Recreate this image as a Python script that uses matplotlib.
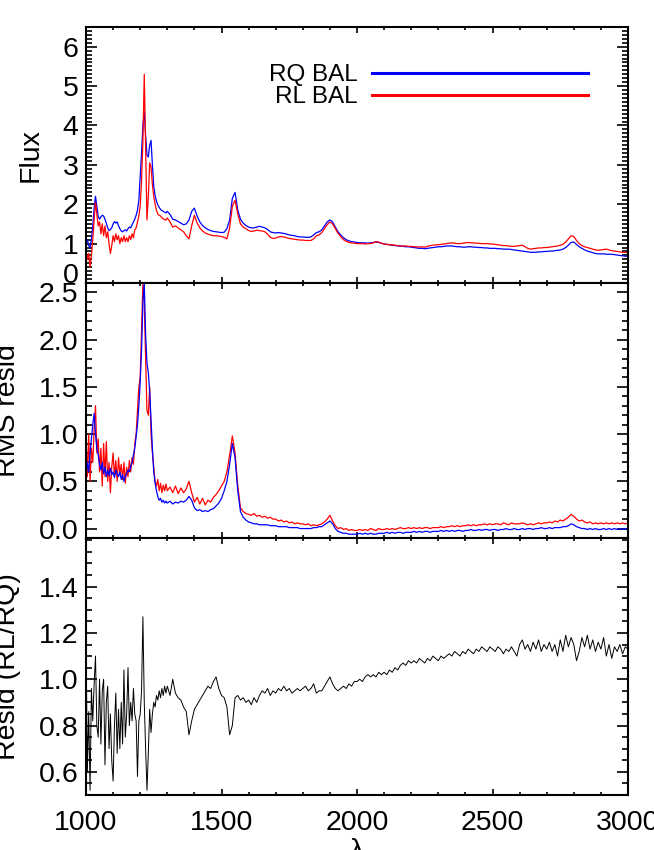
import numpy as np
import matplotlib
matplotlib.use('Agg')
import matplotlib.pyplot as plt
from matplotlib.ticker import MultipleLocator, FormatStrFormatter

plt.rcParams['font.family'] = ['Liberation Sans', 'DejaVu Sans']

# wavelength grid: 5 A steps up to 1300, then 10 A steps
wave = np.concatenate([np.arange(1000, 1300, 5), np.arange(1300, 3001, 10)])

# composite flux, radio-quiet BAL
rq_flux = [
    1.05, 1.10, 0.95, 0.90, 1.10, 1.45, 1.90, 2.20, 1.95, 1.70,
    1.62, 1.68, 1.72, 1.70, 1.62, 1.52, 1.40, 1.33, 1.36, 1.40,
    1.50, 1.56, 1.52, 1.55, 1.45, 1.38, 1.32, 1.30, 1.33, 1.35,
    1.32, 1.38, 1.42, 1.40, 1.48, 1.55, 1.62, 1.72, 1.85, 2.10,
    2.70, 3.30, 4.00, 4.35, 3.75, 3.25, 3.20, 3.50, 3.62, 3.00,
    2.45, 2.22, 2.08, 1.98, 1.92, 1.87, 1.84, 1.82, 1.80, 1.78,
    1.82, 1.74, 1.62, 1.60, 1.56, 1.52, 1.48, 1.50, 1.60, 1.82,
    1.90, 1.70, 1.55, 1.46, 1.40, 1.36, 1.33, 1.31, 1.30, 1.29,
    1.28, 1.29, 1.38, 1.60, 2.15, 2.30, 1.85, 1.62, 1.52, 1.46,
    1.42, 1.40, 1.40, 1.42, 1.44, 1.42, 1.40, 1.36, 1.30, 1.28,
    1.27, 1.28, 1.27, 1.26, 1.24, 1.22, 1.21, 1.20, 1.18, 1.17,
    1.17, 1.16, 1.16, 1.17, 1.22, 1.28, 1.30, 1.35, 1.45, 1.55,
    1.60, 1.55, 1.42, 1.30, 1.22, 1.15, 1.10, 1.07, 1.05, 1.04,
    1.03, 1.02, 1.02, 1.02, 1.01, 1.02, 1.03, 1.04, 1.03, 1.01,
    0.99, 0.98, 0.97, 0.96, 0.95, 0.94, 0.94, 0.93, 0.92, 0.92,
    0.91, 0.90, 0.89, 0.88, 0.88, 0.87, 0.88, 0.89, 0.90, 0.91,
    0.92, 0.92, 0.93, 0.94, 0.94, 0.94, 0.93, 0.92, 0.92, 0.91,
    0.91, 0.92, 0.92, 0.91, 0.91, 0.90, 0.90, 0.89, 0.89, 0.88,
    0.88, 0.88, 0.87, 0.87, 0.86, 0.86, 0.86, 0.85, 0.84, 0.83,
    0.82, 0.81, 0.80, 0.79, 0.78, 0.78, 0.78, 0.79, 0.79, 0.80,
    0.80, 0.81, 0.81, 0.82, 0.83, 0.84, 0.86, 0.90, 0.96, 1.03,
    1.04, 0.98, 0.92, 0.88, 0.84, 0.81, 0.79, 0.77, 0.75, 0.74,
    0.74, 0.74, 0.73, 0.73, 0.73, 0.72, 0.71, 0.70, 0.69, 0.68, 0.68,
]

# composite flux, radio-loud BAL
rl_flux = [
    0.85, 0.60, 0.75, 0.40, 0.70, 1.10, 1.60, 2.05, 1.75, 1.45,
    1.55, 1.25, 1.50, 1.20, 1.45, 1.15, 1.30, 1.00, 0.75, 0.95,
    1.20, 1.05, 1.25, 1.10, 1.20, 1.00, 1.15, 1.05, 1.20, 1.05,
    1.15, 1.05, 1.20, 1.10, 1.25, 1.15, 1.35, 1.40, 1.55, 1.70,
    1.95, 2.60, 3.60, 5.30, 3.40, 1.60, 2.20, 3.05, 2.95, 2.50,
    2.20, 2.00, 1.85, 1.75, 1.72, 1.70, 1.66, 1.63, 1.61, 1.60,
    1.65, 1.55, 1.42, 1.45, 1.40, 1.35, 1.30, 1.20, 1.12, 1.45,
    1.72, 1.52, 1.40, 1.32, 1.27, 1.24, 1.22, 1.20, 1.20, 1.19,
    1.18, 1.16, 1.12, 1.40, 1.95, 2.10, 1.75, 1.50, 1.42, 1.38,
    1.33, 1.31, 1.32, 1.34, 1.33, 1.32, 1.30, 1.24, 1.16, 1.13,
    1.14, 1.17, 1.18, 1.17, 1.15, 1.13, 1.12, 1.11, 1.10, 1.09,
    1.09, 1.08, 1.08, 1.08, 1.12, 1.20, 1.22, 1.28, 1.38, 1.48,
    1.55, 1.50, 1.38, 1.26, 1.18, 1.10, 1.06, 1.03, 1.02, 1.01,
    1.00, 1.00, 1.00, 0.99, 1.00, 1.00, 1.02, 1.05, 1.04, 1.01,
    0.99, 0.98, 0.97, 0.97, 0.96, 0.95, 0.94, 0.94, 0.94, 0.93,
    0.93, 0.92, 0.92, 0.91, 0.92, 0.91, 0.93, 0.95, 0.96, 0.97,
    0.97, 0.98, 0.99, 1.00, 1.01, 1.02, 1.01, 1.00, 1.00, 1.01,
    1.02, 1.03, 1.02, 1.02, 1.01, 1.01, 1.00, 1.00, 1.00, 0.99,
    0.99, 0.98, 0.97, 0.96, 0.95, 0.95, 0.94, 0.93, 0.93, 0.94,
    0.95, 0.96, 0.92, 0.88, 0.86, 0.87, 0.88, 0.89, 0.89, 0.90,
    0.90, 0.91, 0.92, 0.93, 0.94, 0.96, 0.98, 1.04, 1.12, 1.20,
    1.18, 1.08, 1.00, 0.95, 0.92, 0.90, 0.88, 0.86, 0.84, 0.83,
    0.84, 0.85, 0.86, 0.84, 0.82, 0.81, 0.80, 0.79, 0.78, 0.78, 0.77,
]

# rms residuals
rq_rms = [
    0.55, 0.70, 0.60, 0.80, 0.95, 1.10, 1.22, 1.00, 0.85, 0.78,
    0.68, 0.62, 0.70, 0.58, 0.65, 0.55, 0.62, 0.56, 0.64, 0.57,
    0.60, 0.54, 0.62, 0.58, 0.55, 0.60, 0.52, 0.57, 0.50, 0.55,
    0.58, 0.62, 0.60, 0.66, 0.70, 0.78, 0.85, 0.98, 1.10, 1.30,
    1.55, 1.90, 2.40, 2.60, 2.05, 1.75, 1.65, 1.45, 1.15, 0.85,
    0.60, 0.48, 0.40, 0.34, 0.30, 0.32, 0.28, 0.30, 0.27, 0.29,
    0.27, 0.29, 0.26, 0.28, 0.27, 0.29, 0.28, 0.30, 0.34, 0.30,
    0.22, 0.19, 0.20, 0.18, 0.19, 0.18, 0.20, 0.21, 0.24, 0.27,
    0.32, 0.40, 0.50, 0.68, 0.90, 0.75, 0.40, 0.18, 0.12, 0.09,
    0.07, 0.06, 0.05, 0.05, 0.04, 0.04, 0.04, 0.04, 0.03, 0.03,
    0.03, 0.02, 0.02, 0.02, 0.02, 0.01, 0.01, 0.01, 0.01, 0.00,
    0.00, 0.00, 0.00, 0.00, 0.01, 0.01, 0.02, 0.02, 0.04, 0.06,
    0.08, 0.05, 0.00, -0.03, -0.04, -0.05, -0.05, -0.06, -0.06, -0.06,
    -0.06, -0.05, -0.06, -0.05, -0.06, -0.05, -0.06, -0.06, -0.05, -0.05,
    -0.05, -0.04, -0.05, -0.04, -0.05, -0.04, -0.04, -0.05, -0.04, -0.04,
    -0.04, -0.03, -0.04, -0.03, -0.04, -0.03, -0.03, -0.04, -0.03, -0.03,
    -0.03, -0.02, -0.03, -0.02, -0.03, -0.02, -0.03, -0.02, -0.02, -0.03,
    -0.02, -0.02, -0.01, -0.02, -0.02, -0.01, -0.02, -0.01, -0.01, -0.02,
    -0.01, -0.01, -0.02, -0.01, -0.01, 0.00, -0.01, -0.01, 0.00, -0.01,
    -0.01, 0.00, -0.01, 0.00, 0.00, -0.01, 0.00, 0.00, 0.01, 0.00,
    0.00, 0.01, 0.00, 0.01, 0.01, 0.01, 0.02, 0.02, 0.03, 0.05,
    0.04, 0.02, 0.01, 0.00, 0.00, -0.01, 0.00, -0.01, 0.00, -0.01,
    -0.01, 0.00, -0.01, 0.00, -0.01, 0.00, -0.01, 0.00, -0.01, 0.00, -0.01,
]

rl_rms = [
    0.95, 0.55, 1.00, 0.50, 0.85, 0.70, 1.05, 1.30, 0.80, 0.95,
    0.60, 0.85, 0.45, 0.90, 0.55, 0.92, 0.50, 0.70, 0.38, 0.65,
    0.80, 0.55, 0.72, 0.50, 0.75, 0.58, 0.68, 0.52, 0.70, 0.48,
    0.65, 0.55, 0.72, 0.60, 0.75, 0.68, 0.90, 1.00, 1.25, 1.50,
    1.60, 2.10, 2.60, 2.40, 1.80, 1.25, 1.20, 1.50, 1.00, 0.80,
    0.65, 0.50, 0.45, 0.52, 0.40, 0.48, 0.38, 0.46, 0.40, 0.47,
    0.40, 0.44, 0.38, 0.45, 0.37, 0.43, 0.38, 0.42, 0.50, 0.38,
    0.28, 0.33, 0.26, 0.32, 0.25, 0.30, 0.28, 0.33, 0.36, 0.40,
    0.45, 0.50, 0.60, 0.78, 0.98, 0.80, 0.45, 0.22, 0.18, 0.16,
    0.15, 0.14, 0.16, 0.13, 0.14, 0.12, 0.13, 0.11, 0.12, 0.10,
    0.10, 0.08, 0.09, 0.07, 0.08, 0.06, 0.07, 0.05, 0.06, 0.05,
    0.05, 0.04, 0.05, 0.03, 0.04, 0.03, 0.04, 0.05, 0.07, 0.10,
    0.14, 0.08, 0.03, 0.00, 0.01, -0.01, 0.00, -0.02, -0.01, -0.02,
    -0.02, -0.01, -0.02, -0.01, -0.02, 0.00, -0.01, -0.02, 0.00, -0.01,
    -0.01, 0.00, -0.01, 0.00, -0.01, 0.00, 0.01, 0.00, 0.00, 0.01,
    0.00, 0.01, 0.00, 0.01, 0.00, 0.01, 0.01, 0.00, 0.01, 0.01,
    0.01, 0.02, 0.01, 0.02, 0.02, 0.03, 0.02, 0.03, 0.02, 0.03,
    0.03, 0.04, 0.03, 0.04, 0.03, 0.04, 0.04, 0.05, 0.04, 0.05,
    0.04, 0.05, 0.05, 0.04, 0.06, 0.05, 0.04, 0.06, 0.05, 0.05,
    0.05, 0.06, 0.05, 0.04, 0.05, 0.04, 0.05, 0.06, 0.05, 0.06,
    0.06, 0.07, 0.06, 0.08, 0.07, 0.09, 0.08, 0.10, 0.12, 0.15,
    0.13, 0.10, 0.08, 0.09, 0.07, 0.06, 0.07, 0.05, 0.06, 0.05,
    0.06, 0.05, 0.06, 0.05, 0.06, 0.05, 0.06, 0.05, 0.06, 0.05, 0.06,
]

# ratio RL/RQ
ratio = [
    1.20, 0.60, 0.86, 0.52, 0.96, 0.82, 0.98, 1.10, 0.80, 0.75,
    1.00, 0.72, 0.95, 1.00, 0.63, 0.90, 0.97, 0.70, 0.85, 0.65,
    0.56, 0.80, 0.94, 0.68, 0.87, 0.70, 0.90, 0.72, 1.04, 0.75,
    0.85, 1.05, 0.80, 0.90, 0.82, 0.96, 0.85, 0.82, 0.58, 0.82,
    0.85, 0.95, 1.27, 0.90, 0.70, 0.52, 0.68, 0.87, 0.77, 0.85,
    0.90, 0.88, 0.93, 0.91, 0.95, 0.92, 0.96, 0.93, 0.97, 0.94,
    0.97, 0.93, 1.00, 0.94, 0.92, 0.91, 0.88, 0.86, 0.76, 0.82,
    0.87, 0.89, 0.91, 0.93, 0.95, 0.97, 0.96, 0.99, 1.01, 0.96,
    0.93, 0.92, 0.88, 0.76, 0.80, 0.92, 0.93, 0.91, 0.92, 0.90,
    0.91, 0.89, 0.92, 0.90, 0.93, 0.95, 0.94, 0.96, 0.93, 0.95,
    0.94, 0.96, 0.95, 0.97, 0.95, 0.96, 0.94, 0.95, 0.96, 0.95,
    0.96, 0.97, 0.95, 0.96, 0.98, 0.94, 0.95, 0.95, 0.97, 0.99,
    1.01, 0.98, 0.96, 0.95, 0.96, 0.97, 0.96, 0.98, 0.97, 0.99,
    0.99, 1.00, 0.99, 1.01, 1.02, 1.01, 1.02, 1.01, 1.03, 1.02,
    1.03, 1.02, 1.04, 1.03, 1.05, 1.04, 1.06, 1.07, 1.06, 1.08,
    1.07, 1.08, 1.07, 1.09, 1.08, 1.07, 1.09, 1.08, 1.10, 1.09,
    1.08, 1.10, 1.09, 1.10, 1.11, 1.10, 1.12, 1.11, 1.10, 1.12,
    1.11, 1.13, 1.12, 1.11, 1.13, 1.12, 1.14, 1.13, 1.12, 1.14,
    1.13, 1.12, 1.14, 1.13, 1.11, 1.13, 1.12, 1.14, 1.12, 1.10,
    1.15, 1.17, 1.13, 1.15, 1.12, 1.16, 1.13, 1.17, 1.12, 1.15,
    1.13, 1.16, 1.12, 1.15, 1.10, 1.17, 1.12, 1.19, 1.14, 1.18,
    1.15, 1.08, 1.12, 1.18, 1.14, 1.19, 1.13, 1.17, 1.12, 1.16,
    1.13, 1.18, 1.10, 1.15, 1.09, 1.14, 1.12, 1.15, 1.11, 1.14, 1.13,
]

FS = 20.5


# IDL-like frame: ticks inside on all four sides
def style_axis(ax, yminor, show_x):
    ax.set_xlim(1000, 3000)
    ax.xaxis.set_major_locator(MultipleLocator(500))
    ax.xaxis.set_minor_locator(MultipleLocator(100))
    ax.yaxis.set_minor_locator(MultipleLocator(yminor))
    ax.tick_params(which='both', direction='in', top=True, right=True,
                   labelsize=FS, width=1.2)
    ax.tick_params(axis='x', which='major', length=4.5, pad=11)
    ax.tick_params(axis='x', which='minor', length=2.3)
    ax.tick_params(axis='y', which='major', length=8, pad=5.5)
    ax.tick_params(axis='y', which='minor', length=4.3)
    ax.tick_params(axis='x', labelbottom=show_x)
    for s in ax.spines.values():
        s.set_linewidth(1.5)


fig = plt.figure(figsize=(6.54, 8.5), dpi=100)
left, width = 86 / 654, 542 / 654
ax1 = fig.add_axes([left, 1 - 283 / 850, width, 256 / 850])
ax2 = fig.add_axes([left, 1 - 538 / 850, width, 255 / 850])
ax3 = fig.add_axes([left, 1 - 795 / 850, width, 257 / 850])

# panel 1: flux
ax1.plot(wave, rq_flux, color='blue', lw=0.9, label='RQ BAL')
ax1.plot(wave, rl_flux, color='red', lw=0.9, label='RL BAL')
ax1.set_ylim(0, 6.5)
ax1.set_yticks(range(0, 7))
style_axis(ax1, 0.1, False)
ax1.yaxis.get_major_ticks()[0].label1.set_va('baseline')
ax1.set_ylabel('Flux', fontsize=FS)
ax1.yaxis.set_label_coords(-0.078, 0.5)
leg = ax1.legend(loc='upper right', bbox_to_anchor=(0.926, 0.855),
                 markerfirst=False, frameon=False, fontsize=17.5,
                 handlelength=8.9, handletextpad=0.58, labelspacing=0.0,
                 borderpad=0, borderaxespad=0)
for ln in leg.get_lines():
    ln.set_linewidth(2.2)

# panel 2: rms residuals
ax2.plot(wave, rl_rms, color='red', lw=0.9)
ax2.plot(wave, rq_rms, color='blue', lw=0.9)
ax2.set_ylim(-0.1, 2.6)
ax2.set_yticks([0.0, 0.5, 1.0, 1.5, 2.0, 2.5])
ax2.yaxis.set_major_formatter(FormatStrFormatter('%.1f'))
style_axis(ax2, 0.1, False)
ax2.set_ylabel('RMS resid', fontsize=FS)
ax2.yaxis.set_label_coords(-0.12, 0.5)

# panel 3: ratio
ax3.plot(wave, ratio, color='black', lw=0.7)
ax3.set_ylim(0.5, 1.61)
ax3.set_yticks([0.6, 0.8, 1.0, 1.2, 1.4])
ax3.yaxis.set_major_formatter(FormatStrFormatter('%.1f'))
style_axis(ax3, 0.05, True)
ax3.set_ylabel('Resid (RL/RQ)', fontsize=FS)
ax3.yaxis.set_label_coords(-0.12, 0.5)
ax3.set_xlabel('λ', fontsize=FS, labelpad=1)

fig.savefig('out.png', dpi=100)
